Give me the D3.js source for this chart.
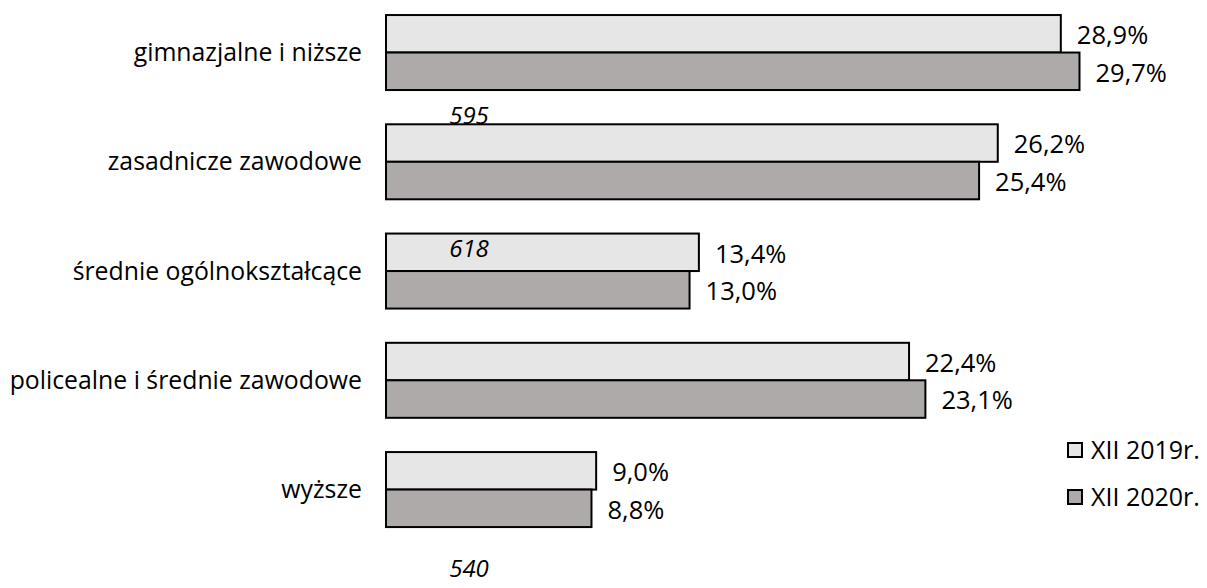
<!DOCTYPE html>
<html lang="pl">
<head>
    <meta charset="UTF-8">
    <title>Wykształcenie</title>
    <style>
        body { margin: 0; background: #fff; }
        text { font-family: "Open Sans", sans-serif; fill: #000; }
    </style>
</head>
<body>
<script src="https://cdn.jsdelivr.net/npm/d3@7/dist/d3.min.js"></script>
<script>
    var width = 1207;
    var height = 588;

    // dane
    var categories = ["gimnazjalne i niższe", "zasadnicze zawodowe", "średnie ogólnokształcące",
        "policealne i średnie zawodowe", "wyższe"];
    var seriesNames = ["XII 2019r.", "XII 2020r."];
    var values2019 = [28.9, 26.2, 13.4, 22.4, 9.0];
    var values2020 = [29.7, 25.4, 13.0, 23.1, 8.8];
    var strayLabels = ["595", "618", "540"];
    var colors = ["#e6e6e6", "#aeaaaa"];

    var svg = d3.select('body')
            .append('svg')
            .attr('width', width)
            .attr('height', height);

    var x = d3.scaleLinear()
            .domain([0, 30])
            .range([386, 386 + 30 * 23.35]);

    var y = d3.scaleBand()
            .domain(categories)
            .range([-2.1, 544.2])
            .paddingInner(0.3135)
            .paddingOuter(0.1568);

    var sub = d3.scaleBand()
            .domain([0, 1])
            .range([0, y.bandwidth()]);

    var fmt = function (v) {
        return v.toFixed(1).replace('.', ',') + '%';
    };

    var rows = categories.map(function (c, i) {
        return {cat: c, vals: [values2019[i], values2020[i]]};
    });

    var groups = svg.selectAll('g.row')
            .data(rows)
            .enter()
            .append('g')
            .attr('class', 'row')
            .attr('transform', function (d) { return 'translate(0,' + y(d.cat) + ')'; });

    groups.selectAll('rect')
            .data(function (d) { return d.vals; })
            .enter()
            .append('rect')
            .attr('x', x(0))
            .attr('y', function (d, i) { return sub(i); })
            .attr('width', function (d) { return x(d) - x(0); })
            .attr('height', sub.bandwidth())
            .attr('fill', function (d, i) { return colors[i]; })
            .attr('stroke', '#000')
            .attr('stroke-width', 2);

    groups.selectAll('text.val')
            .data(function (d) { return d.vals; })
            .enter()
            .append('text')
            .attr('class', 'val')
            .attr('x', function (d) { return x(d) + 16; })
            .attr('y', function (d, i) { return sub(i) + sub.bandwidth() / 2 + 1.5; })
            .attr('dy', '0.35em')
            .attr('font-size', '25.5px')
            .text(fmt);

    groups.append('text')
            .attr('x', 362)
            .attr('y', y.bandwidth() / 2)
            .attr('dy', '0.35em')
            .attr('text-anchor', 'end')
            .attr('font-size', '24.8px')
            .text(function (d) { return d.cat; });

    // luźne etykiety z oryginału (nad słupkami)
    var strayPos = [[469, 124], [469, 257], [469, 577]];
    svg.selectAll('text.stray')
            .data(strayLabels)
            .enter()
            .append('text')
            .attr('class', 'stray')
            .attr('x', function (d, i) { return strayPos[i][0]; })
            .attr('y', function (d, i) { return strayPos[i][1]; })
            .attr('text-anchor', 'middle')
            .attr('font-style', 'italic')
            .attr('font-size', '24px')
            .text(function (d) { return d; });

    // legenda
    var legend = svg.selectAll('g.legend')
            .data(seriesNames)
            .enter()
            .append('g')
            .attr('class', 'legend')
            .attr('transform', function (d, i) { return 'translate(1068,' + (443 + i * 47) + ')'; });

    legend.append('rect')
            .attr('width', 14)
            .attr('height', 14)
            .attr('fill', function (d, i) { return colors[i]; })
            .attr('stroke', '#000')
            .attr('stroke-width', 2);

    legend.append('text')
            .attr('x', 23)
            .attr('y', 7)
            .attr('dy', '0.35em')
            .attr('font-size', '25px')
            .text(function (d) { return d; });
</script>
</body>
</html>
